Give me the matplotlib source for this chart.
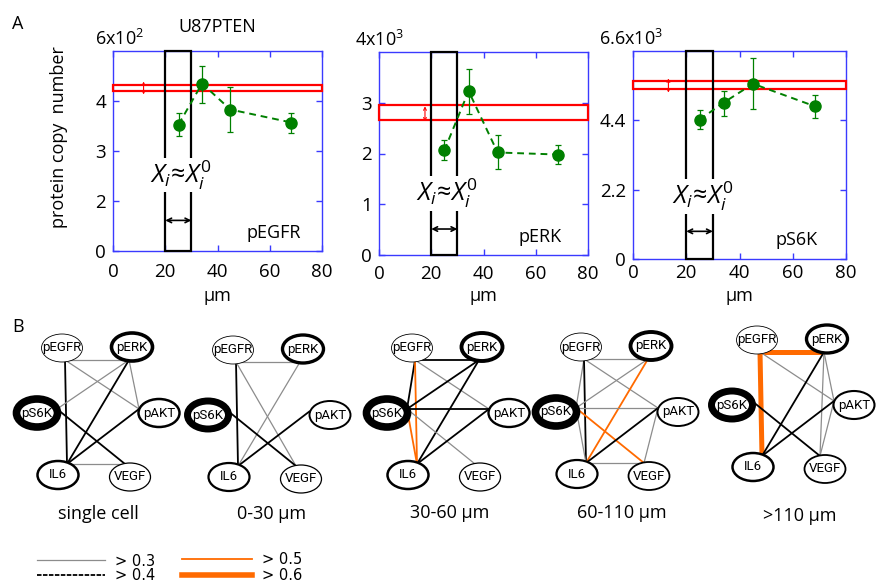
import numpy as np
import matplotlib
matplotlib.use('Agg')
import matplotlib.pyplot as plt
from matplotlib.patches import Rectangle, Ellipse

plt.rcParams['font.family'] = ['Open Sans', 'DejaVu Sans']
plt.rcParams['mathtext.fontset'] = 'custom'
plt.rcParams['mathtext.it'] = 'Open Sans:italic'
plt.rcParams['mathtext.rm'] = 'Open Sans'

# ---- panel A data (distance in um, copy number in scaled units) ----
names_a = ['pEGFR', 'pERK', 'pS6K']
scale_txt = ['6x10$^2$', '4x10$^3$', '6.6x10$^3$']

x_egfr = [25.1, 34.1, 44.9, 68.3]
y_egfr = [3.53, 4.35, 3.83, 3.57]
lo_egfr = [0.23, 0.38, 0.45, 0.20]
hi_egfr = [0.23, 0.36, 0.46, 0.20]
band_egfr = [4.20, 4.33]
sc_egfr = [11.7, 4.13, 4.39]

x_erk = [25.0, 34.3, 45.4, 68.4]
y_erk = [2.06, 3.23, 2.02, 1.98]
lo_erk = [0.19, 0.46, 0.33, 0.19]
hi_erk = [0.20, 0.44, 0.34, 0.18]
band_erk = [2.66, 2.95]
sc_erk = [17.6, 2.63, 2.93]

x_s6k = [25.0, 34.0, 45.1, 68.5]
y_s6k = [4.42, 4.96, 5.56, 4.84]
lo_s6k = [0.30, 0.43, 0.80, 0.38]
hi_s6k = [0.31, 0.38, 0.82, 0.36]
band_s6k = [5.40, 5.66]
sc_s6k = [13.3, 5.28, 5.73]

yticks_a = [[0, 2, 3, 4], [0, 1, 2, 3], [0, 2.2, 4.4]]
yticklabels_a = [['0', '2', '3', '4'], ['0', '1', '2', '3'], ['0', '2.2', '4.4']]
ymax_a = [5, 4, 6.6]

# ---- panel B data ----
nodes = ['pEGFR', 'pERK', 'pS6K', 'pAKT', 'IL6', 'VEGF']
net_titles = ['single cell', '0-30 \u03bcm', '30-60 \u03bcm', '60-110 \u03bcm', '>110 \u03bcm']
node_lw = [
    [0.6, 2.6, 5.5, 1.8, 1.8, 0.9],
    [0.6, 2.4, 5.0, 1.4, 1.6, 0.9],
    [0.6, 2.8, 5.5, 1.7, 1.8, 0.9],
    [0.6, 2.8, 5.5, 1.4, 1.6, 1.3],
    [0.6, 2.4, 5.0, 1.5, 1.8, 1.3],
]
edges_single = [('pEGFR', 'pERK', 0.3), ('pEGFR', 'IL6', 0.4), ('pEGFR', 'pAKT', 0.3),
                ('pERK', 'pS6K', 0.3), ('pERK', 'pAKT', 0.3), ('pERK', 'IL6', 0.4),
                ('pS6K', 'VEGF', 0.4), ('pAKT', 'IL6', 0.4), ('IL6', 'VEGF', 0.3)]
edges_0_30 = [('pEGFR', 'pERK', 0.3), ('pEGFR', 'IL6', 0.4), ('pEGFR', 'VEGF', 0.3),
              ('pERK', 'IL6', 0.3), ('pS6K', 'VEGF', 0.4), ('pAKT', 'IL6', 0.4)]
edges_30_60 = [('pEGFR', 'pERK', 0.4), ('pEGFR', 'pS6K', 0.4), ('pEGFR', 'IL6', 0.5),
               ('pEGFR', 'pAKT', 0.3), ('pERK', 'pS6K', 0.4), ('pERK', 'IL6', 0.4),
               ('pS6K', 'pAKT', 0.4), ('pS6K', 'IL6', 0.5), ('pS6K', 'VEGF', 0.3),
               ('pAKT', 'IL6', 0.4)]
edges_60_110 = [('pEGFR', 'pERK', 0.3), ('pEGFR', 'pS6K', 0.3), ('pEGFR', 'IL6', 0.4),
                ('pEGFR', 'pAKT', 0.3), ('pERK', 'pS6K', 0.3), ('pERK', 'IL6', 0.5),
                ('pS6K', 'pAKT', 0.3), ('pS6K', 'IL6', 0.3), ('pS6K', 'VEGF', 0.5),
                ('pAKT', 'IL6', 0.4), ('pAKT', 'VEGF', 0.3), ('IL6', 'VEGF', 0.3)]
edges_110 = [('pEGFR', 'pERK', 0.6), ('pEGFR', 'IL6', 0.6), ('pEGFR', 'pAKT', 0.3),
             ('pERK', 'IL6', 0.4), ('pERK', 'VEGF', 0.3), ('pERK', 'pAKT', 0.3),
             ('pAKT', 'VEGF', 0.3), ('pAKT', 'IL6', 0.4), ('pS6K', 'VEGF', 0.4)]
all_edges = [edges_single, edges_0_30, edges_30_60, edges_60_110, edges_110]
thresholds = [0.3, 0.4, 0.5, 0.6]

# layout (pixels) -- node offsets from pS6K, and edge anchor points
layout = {'pEGFR': (25, -65), 'pERK': (95, -66), 'pS6K': (0, 0),
          'pAKT': (122, 0), 'IL6': (21, 62), 'VEGF': (93, 64)}
anchor = {'pEGFR': (3, 12), 'pERK': (-3, 13), 'pS6K': (20, -4),
          'pAKT': (-20, -4), 'IL6': (9, -11), 'VEGF': (-5, -13)}
origins = [(37, 413), (208, 415), (387, 413), (556, 412), (732, 405)]
title_pos = [(98, 514), (272, 514), (450, 513), (622, 513), (800, 516)]
edge_style = {0.3: dict(color='#8c8c8c', lw=0.9),
              0.4: dict(color='black', lw=1.3),
              0.5: dict(color='#ff6a00', lw=1.3),
              0.6: dict(color='#ff6a00', lw=3.6)}

fig = plt.figure(figsize=(8.77, 5.85), dpi=100)
W, H = 877.0, 585.0

# bottom network canvas in pixel units
axn = fig.add_axes([0, 0, 1, 1], zorder=0)
axn.set_xlim(0, W)
axn.set_ylim(H, 0)
axn.axis('off')

for k, edges in enumerate(all_edges):
    ox, oy = origins[k]
    pos = {n: (ox + layout[n][0], oy + layout[n][1]) for n in nodes}
    for a, b, w in edges:
        xa = pos[a][0] + anchor[a][0]
        ya = pos[a][1] + anchor[a][1]
        xb = pos[b][0] + anchor[b][0]
        yb = pos[b][1] + anchor[b][1]
        axn.plot([xa, xb], [ya, yb], solid_capstyle='butt', zorder=1, **edge_style[w])
    for i, n in enumerate(nodes):
        axn.add_patch(Ellipse(pos[n], 41, 28, facecolor='white', edgecolor='black',
                              lw=node_lw[k][i], zorder=2))
        axn.text(pos[n][0], pos[n][1], n, ha='center', va='center', fontsize=9.5,
                 family=['Roboto', 'DejaVu Sans'], zorder=3)
    axn.text(title_pos[k][0], title_pos[k][1], net_titles[k], ha='center', va='center', fontsize=13)

# legend
leg_x = [(37, 105), (37, 105), (182, 252), (182, 252)]
leg_y = [560, 575, 559, 575]
for t, (x0, x1), yy in zip(thresholds, leg_x, leg_y):
    st = dict(edge_style[t])
    if t == 0.4:
        st['linestyle'] = (0, (2.5, 0.8))
    if t == 0.6:
        st['lw'] = 4.0
    axn.plot([x0, x1], [yy, yy], **st)
    axn.text(x1 + 10, yy + 1, '> %.1f' % t, ha='left', va='center', fontsize=10.5,
             family='DejaVu Sans')

fig.text(18 / W, 1 - 24 / H, 'A', fontsize=13, ha='center', va='center')
fig.text(18 / W, 1 - 327 / H, 'B', fontsize=13, ha='center', va='center')

# ---- panel A ----
boxes = [(113, 322, 51, 251), (379, 588, 52, 255), (633, 846, 51, 259)]
xs = [x_egfr, x_erk, x_s6k]
ys = [y_egfr, y_erk, y_s6k]
los = [lo_egfr, lo_erk, lo_s6k]
his = [hi_egfr, hi_erk, hi_s6k]
bands = [band_egfr, band_erk, band_s6k]
scs = [sc_egfr, sc_erk, sc_s6k]
scale_x = [0.03, 0.0, -0.01]
approx_y = [0.38, 0.305, 0.30]
arrow_y = [0.153, 0.128, 0.133]
xpad = [8.5, 7, 3.5]
blue = '#3a3aff'


# first panel: the 0-2 stretch is squeezed into one tick step
def fwd1(v):
    return np.interp(v, [0, 2, 5], [0, 1, 4])


def inv1(v):
    return np.interp(v, [0, 1, 4], [0, 2, 5])


for i in range(3):
    l, r, t, b = boxes[i]
    ax = fig.add_axes([l / W, 1 - b / H, (r - l) / W, (b - t) / H], zorder=2)
    if i == 0:
        ax.set_yscale('function', functions=(fwd1, inv1))
    ax.set_xlim(0, 80)
    ax.set_ylim(0, ymax_a[i])
    ax.set_xticks([0, 20, 40, 60, 80])
    ax.set_yticks(yticks_a[i])
    ax.set_yticklabels(yticklabels_a[i])
    ax.yaxis.set_minor_locator(matplotlib.ticker.NullLocator())
    for sp in ax.spines.values():
        sp.set_color(blue)
        sp.set_linewidth(1.0)
    ax.tick_params(direction='in', length=4, width=1, colors=blue, labelcolor='black',
                   top=True, right=True, labelsize=13.5)
    ax.tick_params(axis='x', pad=xpad[i])
    ax.tick_params(axis='y', pad=5)

    ax.add_patch(Rectangle((0, bands[i][0]), 80, bands[i][1] - bands[i][0], fill=False,
                           edgecolor='red', lw=1.6, zorder=3, clip_on=False))
    ax.annotate('', xy=(scs[i][0], scs[i][2]), xytext=(scs[i][0], scs[i][1]),
                arrowprops=dict(arrowstyle='<->', color='red', lw=0.8, mutation_scale=5,
                                shrinkA=0, shrinkB=0), zorder=4)

    ax.add_patch(Rectangle((20, 0), 10, ymax_a[i], fill=False, edgecolor='black', lw=1.6,
                           zorder=3, clip_on=False))
    ax.annotate('', xy=(30, arrow_y[i]), xytext=(20, arrow_y[i]),
                xycoords=ax.get_xaxis_transform(), textcoords=ax.get_xaxis_transform(),
                arrowprops=dict(arrowstyle='<->', color='black', lw=1.2, mutation_scale=8,
                                shrinkA=0, shrinkB=0), zorder=4)
    ax.text(26, approx_y[i], r'$X_i\!\approx\!X_i^0$', transform=ax.get_xaxis_transform(),
            ha='center', va='center', fontsize=18, zorder=5,
            bbox=dict(facecolor='white', edgecolor='none', pad=0.5))

    ax.errorbar(xs[i], ys[i], yerr=[los[i], his[i]], fmt='o', color='green', ms=8,
                elinewidth=0.9, capsize=2.5, capthick=0.9, zorder=6)
    ax.plot(xs[i], ys[i], color='green', lw=1.4, linestyle=(0, (3.5, 2.5)), zorder=5)

    ax.text(0.77, 0.09, names_a[i], transform=ax.transAxes, ha='center', va='center', fontsize=13)
    ax.text(scale_x[i], 1.01, scale_txt[i], transform=ax.transAxes, ha='center', va='bottom',
            fontsize=13)
    ax.set_xlabel('\u03bcm', fontsize=13, va='center')
    ax.xaxis.set_label_coords(0.5, (b - 296) / (b - t))
    if i == 0:
        ax.set_ylabel('protein copy  number', fontsize=13)
        ax.yaxis.set_label_coords((68 - l) / (r - l), (b - 137) / (b - t))
        ax.set_title('U87PTEN', fontsize=13, pad=14)

fig.savefig('out.png', dpi=100)
